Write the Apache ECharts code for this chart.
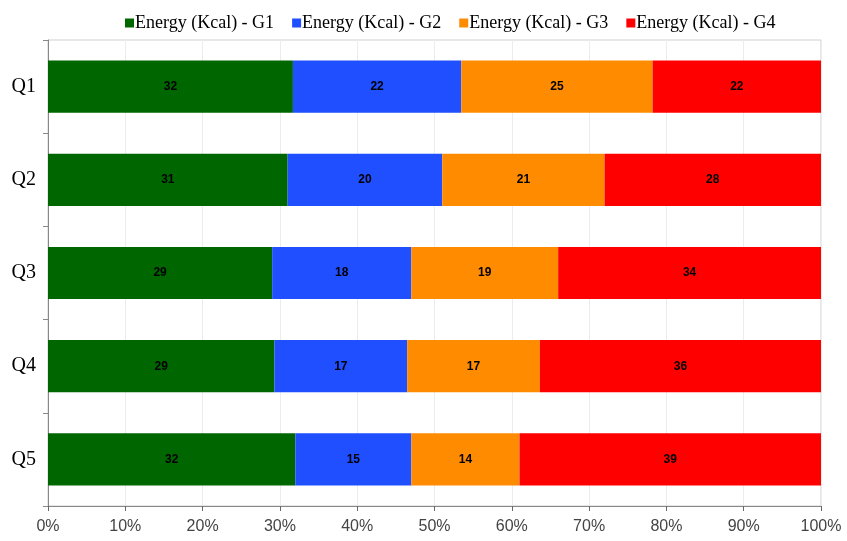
<!DOCTYPE html>
<html>
<head>
<meta charset="utf-8">
<script src="https://cdn.jsdelivr.net/npm/echarts@6/dist/echarts.min.js"></script>
<style>
  html, body { margin: 0; padding: 0; background: #fff; }
  #chart { width: 847px; height: 541px; }
</style>
</head>
<body>
<div id="chart"></div>
<script>
// Energy intake shares per quintile, split by group
const categories = ['Q1', 'Q2', 'Q3', 'Q4', 'Q5'];
const seriesNames = ['Energy (Kcal) - G1', 'Energy (Kcal) - G2', 'Energy (Kcal) - G3', 'Energy (Kcal) - G4'];
const g1 = [32, 31, 29, 29, 32];
const g2 = [22, 20, 18, 17, 15];
const g3 = [25, 21, 19, 17, 14];
const g4 = [22, 28, 34, 36, 39];
const colors = ['#006600', '#1f4fff', '#ff8c00', '#ff0000'];

const groups = [g1, g2, g3, g4];
// each row is shown as a share of its own total (100% stacked)
const rowTotals = categories.map((_, i) => groups.reduce((s, g) => s + g[i], 0));

const chart = echarts.init(document.getElementById('chart'), null, { renderer: 'canvas' });

const series = groups.map((g, k) => ({
  name: seriesNames[k],
  type: 'bar',
  stack: 'total',
  barCategoryGap: '44%',
  itemStyle: { color: colors[k] },
  label: {
    show: true,
    position: 'inside',
    color: '#000',
    fontFamily: 'Liberation Sans, Arial, sans-serif',
    fontWeight: 'bold',
    fontSize: 12,
    formatter: p => String(g[p.dataIndex])
  },
  data: g.map((v, i) => v / rowTotals[i] * 100)
}));

chart.setOption({
  animation: false,
  backgroundColor: '#fff',
  legend: {
    top: 9,
    left: 120,
    itemWidth: 9,
    itemHeight: 9,
    itemGap: 18,
    icon: 'rect',
    textStyle: {
      fontFamily: 'Liberation Serif, Times New Roman, serif',
      fontSize: 18,
      color: '#000',
      padding: [0, 0, 0, -4]
    },
    data: seriesNames
  },
  grid: {
    left: 48,
    right: 26,
    top: 40,
    bottom: 35,
    show: true,
    borderColor: '#cfcfcf',
    borderWidth: 1
  },
  xAxis: {
    type: 'value',
    min: 0,
    max: 100,
    interval: 10,
    axisLine: { show: true, lineStyle: { color: '#888' } },
    axisTick: { show: true, length: 5, lineStyle: { color: '#666' } },
    splitLine: { show: true, lineStyle: { color: '#ececec' } },
    axisLabel: {
      formatter: '{value}%',
      fontFamily: 'Liberation Sans, Arial, sans-serif',
      fontSize: 16,
      color: '#444',
      margin: 13
    }
  },
  yAxis: {
    type: 'category',
    inverse: true,
    data: categories,
    axisLine: { show: true, lineStyle: { color: '#888' } },
    axisTick: { show: true, length: 5, lineStyle: { color: '#888' } },
    axisLabel: {
      fontFamily: 'Liberation Serif, Times New Roman, serif',
      fontSize: 20,
      color: '#000',
      margin: 12
    }
  },
  series: series
});
</script>
</body>
</html>
